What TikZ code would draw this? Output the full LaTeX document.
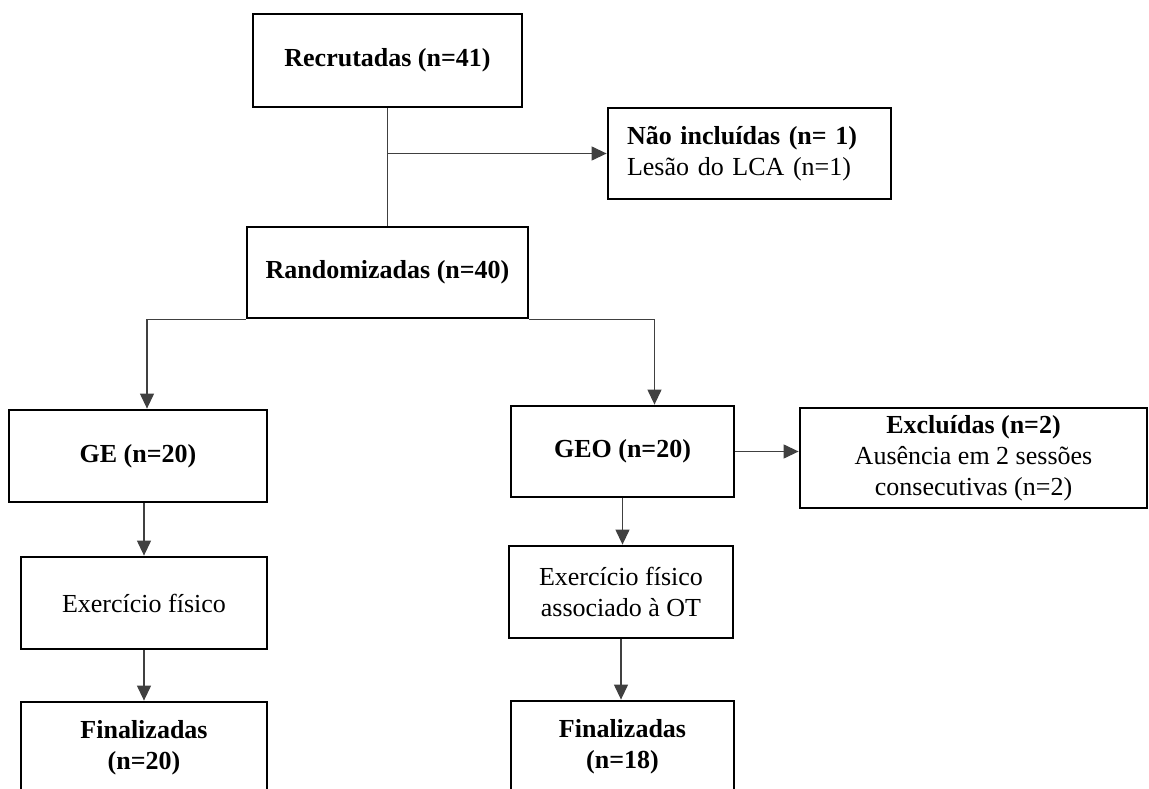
\documentclass[tikz,border=0pt]{standalone}
\usepackage{fontspec}
\setmainfont{Liberation Serif}
\usetikzlibrary{arrows.meta,calc}
\tikzset{caixa/.style={draw, line width=2.8pt, inner sep=0pt, align=center, font=\fontsize{26}{31}\selectfont},
seta/.style={draw=black!75, line width=1.2pt, -{Triangle[length=15pt,width=14pt]}},
linha/.style={draw=black!75, line width=1.2pt}}

\begin{document}
\begin{tikzpicture}[x=1pt,y=-1pt]
\useasboundingbox (0,0) rectangle (1149,789);
\clip (0,0) rectangle (1149,789);
\node[caixa, minimum width=269pt, minimum height=93pt] (rec) at (387.5,60.5) {\textbf{Recrutadas (n=41)}};
\node[caixa, minimum width=283pt, minimum height=91pt, align=left, text width=245pt, inner xsep=19pt] (nao) at (749.5,153.5) {\textbf{Não incluídas (n= 1)}\\Lesão do LCA (n=1)};
\node[caixa, minimum width=281pt, minimum height=91pt] (rand) at (387.5,272.5) {\textbf{Randomizadas (n=40)}};
\node[caixa, minimum width=258pt, minimum height=92pt] (ge) at (138,456) {\textbf{GE (n=20)}};
\node[caixa, minimum width=246pt, minimum height=92pt] (ex1) at (144,603) {Exercício físico};
\node[caixa, minimum width=246pt, minimum height=92pt] (fin1) at (144,748) {\textbf{Finalizadas}\\\textbf{(n=20)}};
\node[caixa, minimum width=223pt, minimum height=91pt] (geo) at (622.5,451.5) {\textbf{GEO (n=20)}};
\node[caixa, minimum width=347pt, minimum height=100pt] (exc) at (973.5,458) {\textbf{Excluídas (n=2)}\\Ausência em 2 sessões\\consecutivas (n=2)};
\node[caixa, minimum width=224pt, minimum height=92pt] (ex2) at (621,592) {Exercício físico\\associado à OT};
\node[caixa, minimum width=223pt, minimum height=92pt] (fin2) at (622.5,747) {\textbf{Finalizadas}\\\textbf{(n=18)}};

\draw[linha] (rec.south) -- (rand.north);
\draw[seta] (rec.south |- nao.west) -- (nao.west);
\draw[seta] (rand.south west) -| ([xshift=9pt]ge.north);
\draw[seta] (rand.south east) -| ([xshift=32pt]geo.north);
\draw[seta] (ge.south -| ex1.north) -- (ex1.north);
\draw[seta] (ex1.south) -- (fin1.north);
\draw[seta] (geo.south) -- (geo.south |- ex2.north);
\draw[seta] (ex2.south) -- (ex2.south |- fin2.north);
\draw[seta] (geo.east) -- (geo.east -| exc.west);
\end{tikzpicture}
\end{document}
